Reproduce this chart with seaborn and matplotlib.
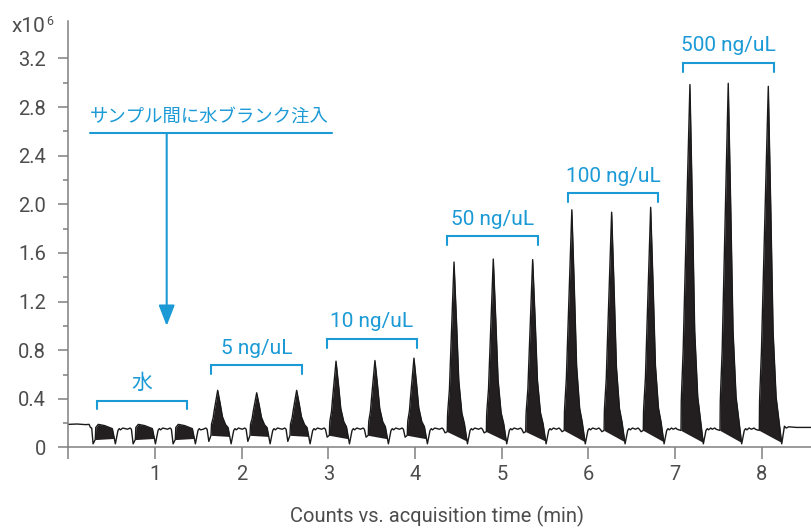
import numpy as np
import pandas as pd
import matplotlib
matplotlib.use("Agg")
import matplotlib.pyplot as plt
import seaborn as sns

# 18 injections: 3 water blanks, then 5 standards x 3 (time in min, counts x10^6)
inj_start = [0.311, 0.773, 1.234, 1.646, 2.096, 2.557, 3.011, 3.460, 3.910,
             4.371, 4.822, 5.276, 5.720, 6.180, 6.632, 7.067, 7.517, 7.970]
inj_apex_t = [0.388, 0.850, 1.311, 1.723, 2.173, 2.634, 3.088, 3.537, 3.987,
              4.449, 4.902, 5.356, 5.808, 6.267, 6.717, 7.170, 7.612, 8.074]
inj_apex = [0, 0, 0, 0.47, 0.45, 0.47, 0.71, 0.715, 0.735,
            1.525, 1.55, 1.545, 1.955, 1.935, 1.975, 2.985, 2.995, 2.97]
pre_dip = [0.03, 0.03, 0.03, 0.05, 0.05, 0.05, 0.085, 0.085, 0.085,
           0.12, 0.12, 0.12, 0.13, 0.13, 0.13, 0.145, 0.145, 0.145]
fill_base_start = [0.065, 0.065, 0.065, 0.10, 0.10, 0.10, 0.10, 0.10, 0.10,
                   0.13, 0.13, 0.13, 0.14, 0.14, 0.14, 0.14, 0.14, 0.14]
fill_base_end = [0.075, 0.075, 0.075, 0.09, 0.09, 0.09, 0.07, 0.07, 0.07,
                 0.05, 0.05, 0.05, 0.045, 0.045, 0.045, 0.04, 0.04, 0.04]

# shape of one injection
blob_rise = [(0.006, 0.165), (0.035, 0.19)]          # after start
blob_fall = [(0.03, 0.18), (0.12, 0.155), (0.155, 0.03)]  # after apex
peak_rise = [(0.003, 0.08), (0.025, 0.22)]           # fraction of height
peak_fall = [(0.027, 0.66), (0.055, 0.28), (0.09, 0.09), (0.12, 0.03), (0.155, 0.0)]
plateau = [(0.03, 0.14), (0.045, 0.155), (0.06, 0.145), (0.085, 0.16)]  # after dip
plateau_end = [(-0.09, 0.15), (-0.06, 0.16), (-0.045, 0.15)]  # before next start
lead_in = [(0.0, 0.19), (0.1, 0.193), (0.2, 0.188), (0.24, 0.19), (0.255, 0.165), (0.27, 0.16)]
tail_out = [(8.26, 0.175), (8.28, 0.16), (8.31, 0.17), (8.40, 0.165), (8.578, 0.165)]

group_labels = ["水", "5 ng/uL", "10 ng/uL", "50 ng/uL", "100 ng/uL", "500 ng/uL"]
bracket_left = [0.328, 1.646, 2.984, 4.368, 5.760, 7.093]
bracket_right = [1.366, 2.692, 4.022, 5.417, 6.805, 8.139]
bracket_y = [0.385, 0.678, 0.892, 1.739, 2.09, 3.164]

blue = "#1b9ad6"
gray = "#808080"
txt = "#4d4d4d"

sns.set_style("ticks")
plt.rcParams["font.family"] = ["Roboto", "Noto Sans CJK JP", "DejaVu Sans"]

T, Y = [p[0] for p in lead_in], [p[1] for p in lead_in]
fills = []
for i, s in enumerate(inj_start):
    a = inj_apex_t[i]
    b = fill_base_start[i]
    T += [s - 0.025]; Y += [pre_dip[i]]
    bt = [s] + [s + d for d, _ in blob_rise] + [a + d for d, _ in blob_fall]
    bv = [b] + [v for _, v in blob_rise] + [v for _, v in blob_fall]
    pt = [s] + [s + d for d, _ in peak_rise] + [a] + [a + d for d, _ in peak_fall]
    pv = [0] + [v for _, v in peak_rise] + [1] + [v for _, v in peak_fall]
    tt = np.unique(np.concatenate([bt, pt]))
    h = max(inj_apex[i] - np.interp(a, bt, bv), 0)
    yy = np.interp(tt, bt, bv) + h * np.interp(tt, pt, pv)
    base = np.interp(tt, [s, a + 0.155], [b, fill_base_end[i]])
    fills.append((tt, yy, base))
    T += list(tt); Y += list(yy)
    dip = a + 0.155
    nxt = inj_start[i + 1] if i + 1 < len(inj_start) else None
    if nxt is not None:
        for d, v in plateau:
            if dip + d < nxt - 0.1:
                T.append(dip + d); Y.append(v)
        for d, v in plateau_end:
            T.append(nxt + d); Y.append(v)
T += [p[0] for p in tail_out]; Y += [p[1] for p in tail_out]

df = pd.DataFrame({"time": T, "counts": Y})

fig = plt.figure(figsize=(8.12, 5.28), dpi=100)
ax = fig.add_axes([0.0841, 0.1525, 0.9159, 0.8083])
for tt, yy, base in fills:
    ax.fill_between(tt, yy, base, where=yy >= base, interpolate=True,
                    color="#231f20", lw=0)
sns.lineplot(data=df, x="time", y="counts", sort=False, estimator=None,
             color="#1a1a1a", lw=1.0, ax=ax)

for lab, l, r, y in zip(group_labels, bracket_left, bracket_right, bracket_y):
    ax.plot([l, l, r, r], [y - 0.072, y, y, y - 0.072], color=blue, lw=1.5,
            solid_joinstyle="miter")
    ax.text((l + r) / 2, y + 0.14, lab, color=blue, fontsize=15,
            ha="center", va="center")

# water blank annotation
ax.text(1.623, 2.718, "サンプル間に水ブランク注入", color=blue, fontsize=13.2,
        ha="center", va="center")
ax.plot([0.25, 3.041], [2.586, 2.586], color=blue, lw=1.5)
ax.annotate("", xy=(1.135, 1.0), xytext=(1.135, 2.586),
            arrowprops=dict(arrowstyle="-|>,head_length=0.9,head_width=0.35",
                            color=blue, lw=1.5, mutation_scale=14,
                            shrinkA=0, shrinkB=0))

ax.set_xlim(0, 8.578)
ax.set_ylim(0, 3.51)
ax.set_xticks(range(0, 9))
ax.set_xticklabels([""] + [str(k) for k in range(1, 9)])
yt = [0, 0.4, 0.8, 1.2, 1.6, 2.0, 2.4, 2.8, 3.2]
ax.set_yticks(yt)
ax.set_yticklabels(["0", "0.4", "0.8", "1.2", "1.6", "2.0", "2.4", "2.8", "3.2"])
ax.set_yticks([0.2, 0.6, 1.0, 1.4, 1.8, 2.2, 2.6, 3.0], minor=True)
ax.tick_params(axis="x", length=8.6, width=1.1, color=gray, pad=4,
               labelsize=14.5, labelcolor=txt)
ax.tick_params(axis="y", which="major", length=7.2, width=1.1, color=gray,
               pad=9, labelsize=14.5, labelcolor=txt)
ax.tick_params(axis="y", which="minor", length=3.6, width=1.1, color=gray)
sns.despine(ax=ax)
for sp in ["left", "bottom"]:
    ax.spines[sp].set_color(gray)
    ax.spines[sp].set_linewidth(1.1)
ax.set_xlabel("")
ax.set_ylabel("")

fig.text(437 / 812, 1 - 516 / 528, "Counts vs. acquisition time (min)",
         color=txt, fontsize=14.5, ha="center", va="center")
fig.text(12 / 812, 1 - 32 / 528, "x10", color=txt, fontsize=15,
         ha="left", va="baseline")
fig.text(46 / 812, 1 - 25 / 528, "6", color=txt, fontsize=9,
         ha="left", va="baseline")

fig.savefig("out.png", dpi=100)
